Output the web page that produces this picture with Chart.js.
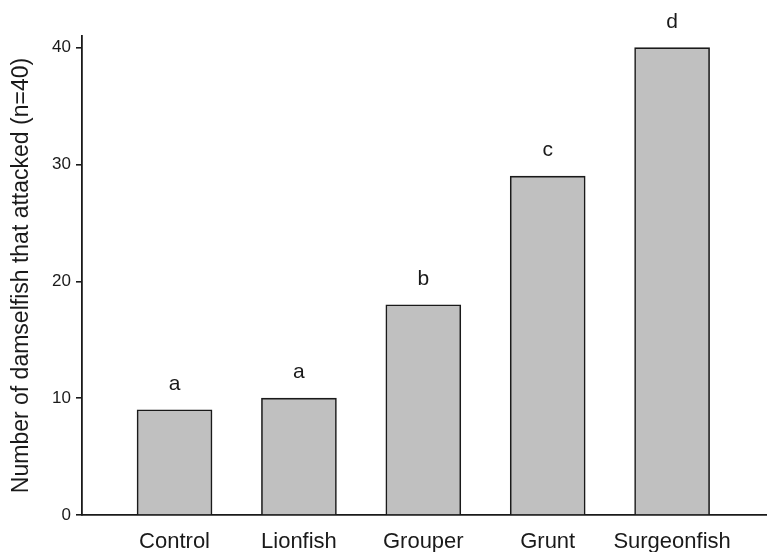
<!DOCTYPE html>
<html>
<head>
<meta charset="utf-8">
<script src="https://cdn.jsdelivr.net/npm/chart.js@4"></script>
<style>
    html, body { margin: 0; padding: 0; background: #fff; }
    #wrap { width: 767px; height: 552px; }
</style>
</head>
<body>
<div id="wrap"><canvas id="attackChart" width="767" height="552"></canvas></div>
<script>
const categories = ['Control', 'Lionfish', 'Grouper', 'Grunt', 'Surgeonfish'];
const attacked = [9, 10, 18, 29, 40];
const groupLetters = ['a', 'a', 'b', 'c', 'd'];
const yTicks = [0, 10, 20, 30, 40];

const ink = '#1a1a1a';
const fontFamily = 'Arial, "Liberation Sans", sans-serif';

// letters over each bar
const letterPlugin = {
    id: 'letters',
    afterDatasetsDraw(chart) {
        const ctx = chart.ctx;
        const meta = chart.getDatasetMeta(0);
        ctx.save();
        ctx.fillStyle = ink;
        ctx.font = '21px ' + fontFamily;
        ctx.textAlign = 'center';
        ctx.textBaseline = 'alphabetic';
        meta.data.forEach((bar, i) => {
            ctx.fillText(groupLetters[i], bar.x, bar.y - 20);
        });
        ctx.restore();
    }
};

const ctx = document.getElementById('attackChart').getContext('2d');
new Chart(ctx, {
    type: 'bar',
    data: {
        datasets: [{
            data: categories.map((c, i) => ({ x: i + 1, y: attacked[i] })),
            backgroundColor: '#c0c0c0',
            borderColor: ink,
            borderWidth: 1.6,
            barThickness: 75
        }]
    },
    options: {
        responsive: false,
        animation: false,
        layout: { padding: { top: 36, right: 0, bottom: 0, left: 0 } },
        plugins: {
            legend: { display: false },
            tooltip: { enabled: false }
        },
        scales: {
            x: {
                type: 'linear',
                min: 0.256,
                max: 5.763,
                offset: false,
                grid: { display: false, offset: false },
                border: { display: true, color: ink, width: 1.8 },
                afterBuildTicks: (scale) => {
                    scale.ticks = categories.map((c, i) => ({ value: i + 1 }));
                },
                afterFit: (scale) => { scale.height = 37; },
                ticks: {
                    color: ink,
                    font: { family: fontFamily, size: 22 },
                    padding: 6,
                    maxRotation: 0,
                    autoSkip: false,
                    callback: (value) => categories[value - 1] || ''
                }
            },
            y: {
                min: 0,
                max: 41,
                grid: {
                    drawOnChartArea: false,
                    drawTicks: true,
                    tickLength: 6,
                    color: ink,
                    lineWidth: 1.6
                },
                border: { display: true, color: ink, width: 1.8 },
                afterBuildTicks: (scale) => {
                    scale.ticks = yTicks.map(v => ({ value: v }));
                },
                afterFit: (scale) => { scale.width = 82; },
                ticks: {
                    color: ink,
                    font: { family: fontFamily, size: 17 },
                    padding: 5
                },
                title: {
                    display: true,
                    text: 'Number of damselfish that attacked (n=40)',
                    color: ink,
                    font: { family: fontFamily, size: 23 },
                    padding: { top: 8, bottom: 0 }
                }
            }
        }
    },
    plugins: [letterPlugin]
});
</script>
</body>
</html>
